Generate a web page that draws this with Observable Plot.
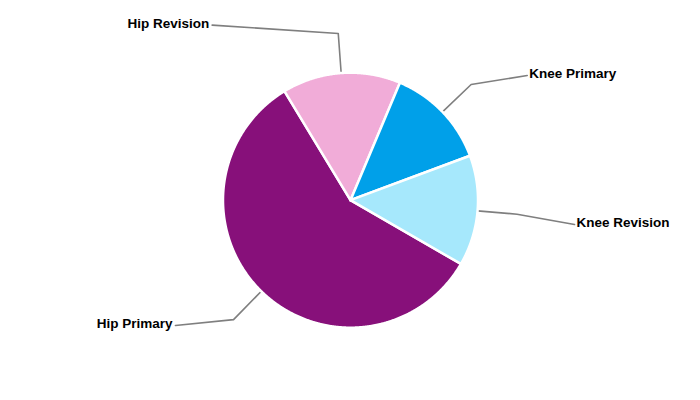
<!DOCTYPE html>
<html><head><meta charset="utf-8">
<script src="https://cdn.jsdelivr.net/npm/d3@7"></script>
<script src="https://cdn.jsdelivr.net/npm/@observablehq/plot@0.6"></script>
<style>body{margin:0;background:#fff} #chart{width:700px;height:400px}</style>
</head><body><div id="chart"></div>
<script>
// Data
const categories = ["Hip Primary", "Hip Revision", "Knee Primary", "Knee Revision"];
const values = [58, 15, 13, 14];
const colors = ["#87107a", "#f1acd8", "#00a0e9", "#a6e8fc"];

// Layout (units of pie radius)
const labelX = [-1.373, -1.085, 1.386, 1.757];
const labelY = [-0.983, 1.373, 0.978, -0.191];
const labelSide = ["end", "end", "start", "start"];
const PX = 127.5;       // px per radius unit
const ELBOW = 1.311;

const start = 120 * Math.PI / 180;
const arcs = d3.pie().sort(null).startAngle(start).endAngle(start + 2 * Math.PI)(values);

const slices = [];
arcs.forEach((a, i) => {
  const name = categories[i];
  slices.push({name, x: 0, y: 0});
  const n = Math.max(2, Math.ceil((a.endAngle - a.startAngle) / 0.005));
  for (let k = 0; k <= n; k++) {
    const t = a.startAngle + (a.endAngle - a.startAngle) * k / n;
    slices.push({name, x: Math.sin(t), y: Math.cos(t)});
  }
  slices.push({name, x: 0, y: 0});
});

const leaders = [];
const labels = [];
arcs.forEach((a, i) => {
  const name = categories[i];
  const m = (a.startAngle + a.endAngle) / 2;
  leaders.push({name, x: Math.sin(m), y: Math.cos(m)});
  leaders.push({name, x: ELBOW * Math.sin(m), y: ELBOW * Math.cos(m)});
  leaders.push({name, x: labelX[i], y: labelY[i]});
  labels.push({name, x: labelX[i], y: labelY[i], side: labelSide[i]});
});

const chart = Plot.plot({
  width: 700, height: 400,
  margin: 0,
  x: {domain: [-350 / PX, 350 / PX], axis: null},
  y: {domain: [-200.3 / PX, 199.7 / PX], axis: null},
  color: {domain: categories, range: colors},
  style: {background: "#fff", fontFamily: "'Liberation Sans', Arial, sans-serif"},
  marks: [
    Plot.line(leaders, {x: "x", y: "y", z: "name", stroke: "#7f7f7f", strokeWidth: 1.6}),
    Plot.line(slices, {x: "x", y: "y", z: "name", fill: "name", stroke: "white", strokeWidth: 2.5, strokeLinejoin: "round"}),
    Plot.text(labels.filter(d => d.side === "end"), {x: "x", y: "y", text: "name", textAnchor: "end", dx: -3, dy: -1.5, fontSize: 13.5, fontWeight: "bold", fill: "#000"}),
    Plot.text(labels.filter(d => d.side === "start"), {x: "x", y: "y", text: "name", textAnchor: "start", dx: 2, dy: -1.5, fontSize: 13.5, fontWeight: "bold", fill: "#000"})
  ]
});
document.getElementById("chart").appendChild(chart);
</script>
</body></html>
